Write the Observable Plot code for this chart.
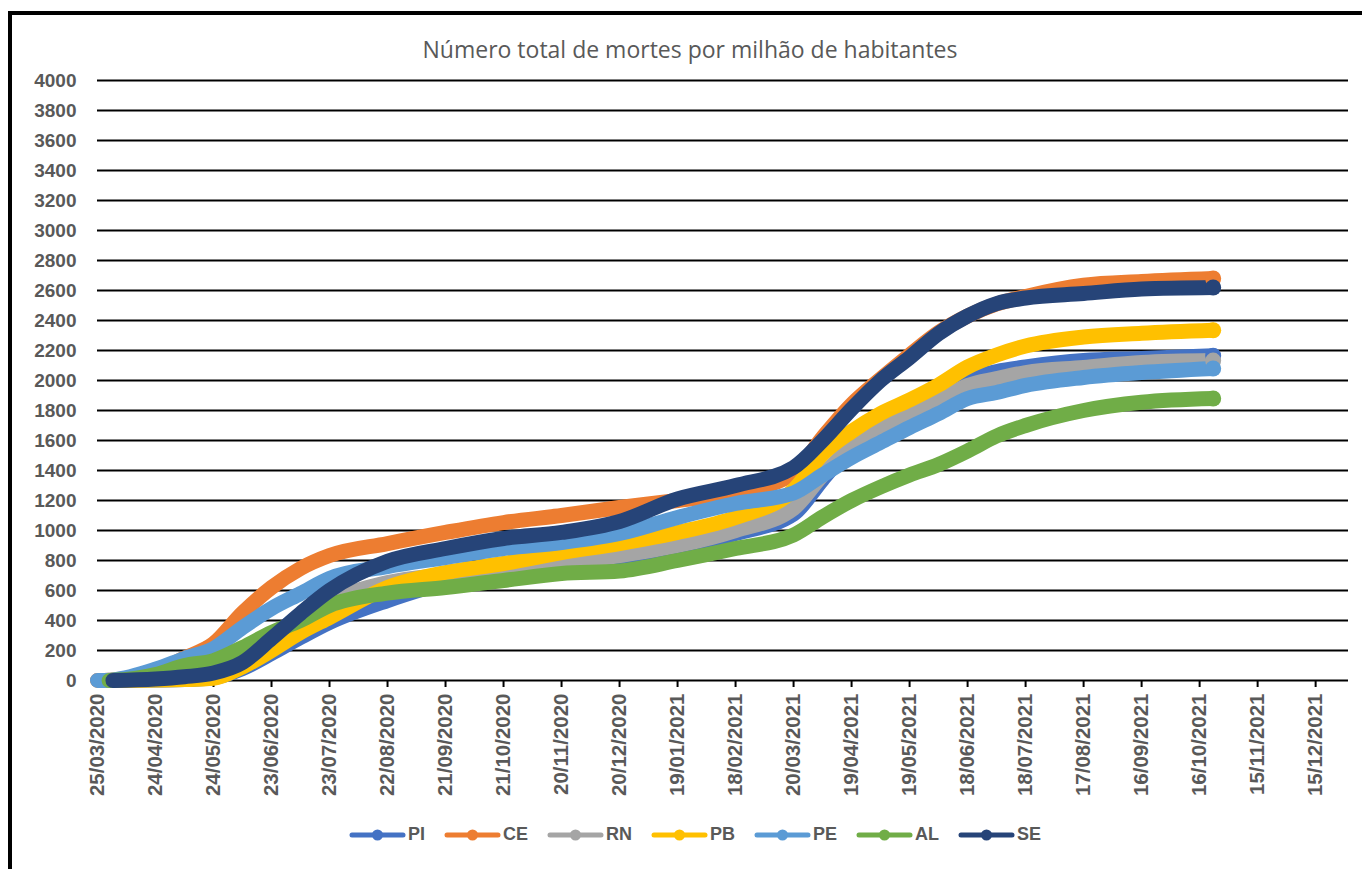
<!DOCTYPE html>
<html>
<head>
<meta charset="utf-8">
<script src="https://cdn.jsdelivr.net/npm/d3@7"></script>
<script src="https://cdn.jsdelivr.net/npm/@observablehq/plot@0.6"></script>
<style>
  html, body { margin: 0; padding: 0; background: #fff; }
  #wrap { position: relative; width: 1362px; height: 869px; overflow: hidden; }
  #frame { position: absolute; left: 8px; top: 11px; width: 1400px; height: 900px;
           border-top: 4px solid #000; border-left: 4px solid #000; box-sizing: border-box; }
  #title { position: absolute; top: 33px; left: 0; width: 1380px; text-align: center;
           font-family: "Open Sans", sans-serif; font-size: 23px; color: #595959; }
  #chart { position: absolute; left: 0; top: 0; }
  #legend { position: absolute; top: 824px; left: 349px; display: flex; align-items: center;
            font-family: "Liberation Sans", Arial, sans-serif; font-weight: bold; font-size: 18px; color: #595959; }
  .item { display: flex; align-items: center; margin-right: 19px; }
  .item svg { margin-right: 2px; }
</style>
</head>
<body>
<div id="wrap">
  <div id="frame"></div>
  <div id="chart"></div>
  <div id="title">Número total de mortes por milhão de habitantes</div>
  <div id="legend"></div>
</div>
<script>
const dates = ["2020-03-25","2020-03-31","2020-04-02","2020-04-24","2020-05-09","2020-05-24","2020-06-08","2020-06-23","2020-07-08","2020-07-23","2020-08-22","2020-09-21","2020-10-21","2020-11-20","2020-12-20","2021-01-19","2021-02-18","2021-03-20","2021-04-04","2021-04-19","2021-05-04","2021-05-19","2021-06-03","2021-06-18","2021-07-03","2021-07-18","2021-08-17","2021-09-16","2021-10-23"];

const PI = [null,null,0,3,6,20,80,180,287,387,533,650,715,770,820,880,980,1110,1340,1560,1713,1813,1920,2010,2060,2090,2133,2147,2165];
const CE = [0,2,4,60,150,245,450,620,747,833,913,987,1053,1100,1153,1200,1253,1380,1620,1840,2010,2170,2320,2430,2510,2560,2635,2660,2680];
const RN = [null,null,0,5,10,30,110,250,420,530,653,705,745,780,833,900,1000,1147,1370,1553,1680,1767,1867,1967,2013,2053,2087,2120,2133];
const PB = [null,null,0,3,6,15,90,200,320,420,620,720,780,853,913,987,1087,1270,1510,1660,1780,1870,1970,2090,2170,2230,2290,2315,2335];
const PE = [0,2,4,75,147,213,353,480,580,680,760,820,880,920,980,1087,1180,1250,1370,1487,1587,1687,1780,1880,1920,1967,2020,2053,2080];
const AL = [null,0,1,40,100,133,220,320,400,500,583,620,667,713,730,800,880,970,1090,1200,1290,1370,1440,1530,1630,1700,1800,1855,1880];
const SE = [null,null,0,10,25,50,120,280,447,600,795,880,947,987,1060,1210,1300,1420,1600,1810,2000,2153,2313,2430,2513,2550,2580,2610,2620];

const seriesNames = ["PI","CE","RN","PB","PE","AL","SE"];
const seriesValues = [PI, CE, RN, PB, PE, AL, SE];
const seriesColors = ["#4472C4","#ED7D31","#A5A5A5","#FFC000","#5B9BD5","#70AD47","#264478"];

const xTickDates = ["2020-03-25","2020-04-24","2020-05-24","2020-06-23","2020-07-23","2020-08-22","2020-09-21","2020-10-21","2020-11-20","2020-12-20","2021-01-19","2021-02-18","2021-03-20","2021-04-19","2021-05-19","2021-06-18","2021-07-18","2021-08-17","2021-09-16","2021-10-16","2021-11-15","2021-12-15"];
const xDomain = ["2020-03-25","2022-01-01"];
const yTicks = d3.range(0, 4001, 200);

const parse = d3.utcParse("%Y-%m-%d");
const rows = [];
seriesNames.forEach((name, si) => {
  seriesValues[si].forEach((v, i) => {
    if (v !== null) rows.push({serie: name, date: parse(dates[i]), value: v});
  });
});
const lastRows = seriesNames.map(name => rows.filter(r => r.serie === name).slice(-1)[0]);

const font = "'Liberation Sans', Arial, sans-serif";
const chart = Plot.plot({
  width: 1362,
  height: 869,
  marginLeft: 97,
  marginRight: 14,
  marginTop: 80,
  marginBottom: 189,
  style: {fontFamily: font, background: "transparent", overflow: "visible"},
  x: {type: "utc", domain: xDomain.map(parse), label: null},
  y: {domain: [0, 4000], label: null},
  color: {domain: seriesNames, range: seriesColors},
  marks: [
    Plot.ruleY(yTicks, {stroke: "#000", strokeWidth: 2}),
    Plot.axisY({ticks: yTicks, label: null, tickSize: 0, tickPadding: 21, fontSize: 19, fontWeight: "bold", fill: "#595959", tickFormat: d => String(d)}),
    Plot.axisX({ticks: xTickDates.map(parse), label: null, tickSize: 7, stroke: "#000", strokeWidth: 2, tickPadding: 6,
      tickRotate: -90, textAnchor: "end", fontSize: 20.5, fontWeight: "bold", fill: "#595959",
      tickFormat: d3.utcFormat("%d/%m/%Y")}),
    Plot.line(rows, {x: "date", y: "value", z: "serie", stroke: "serie", strokeWidth: 15,
      strokeLinecap: "round", strokeLinejoin: "round", curve: "monotone-x"}),
    Plot.dot(lastRows, {x: "date", y: "value", fill: "serie", r: 8})
  ]
});
document.getElementById("chart").appendChild(chart);

const legend = document.getElementById("legend");
seriesNames.forEach((name, i) => {
  const item = document.createElement("div");
  item.className = "item";
  item.innerHTML = `<svg width="57" height="14"><line x1="3" y1="7" x2="54" y2="7" stroke="${seriesColors[i]}" stroke-width="5" stroke-linecap="round"/><circle cx="28.5" cy="7" r="5.5" fill="${seriesColors[i]}"/></svg><span>${name}</span>`;
  legend.appendChild(item);
});
</script>
</body>
</html>
